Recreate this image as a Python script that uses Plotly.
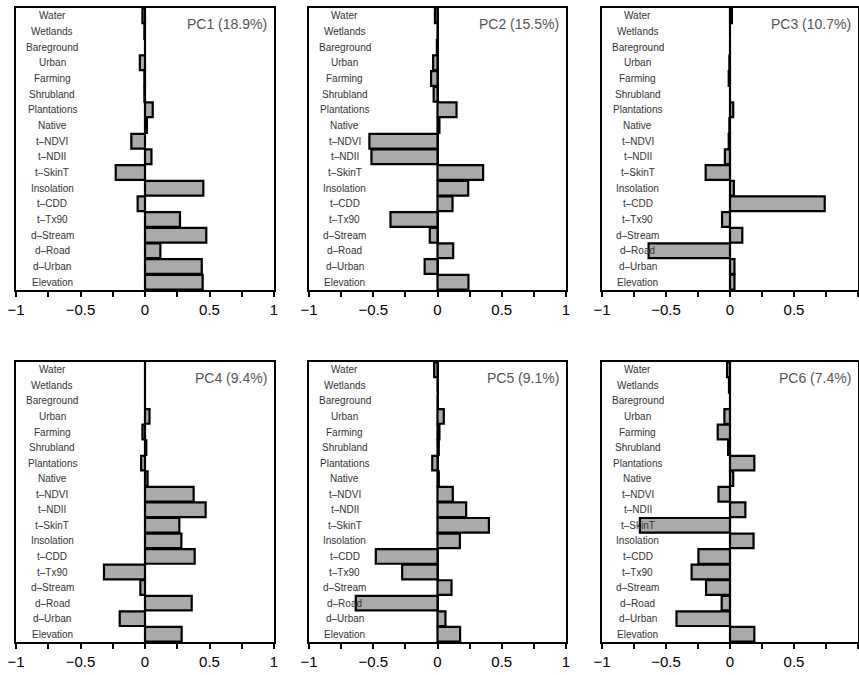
import plotly.graph_objects as go

categories = ["Water", "Wetlands", "Bareground", "Urban", "Farming", "Shrubland",
              "Plantations", "Native", "t–NDVI", "t–NDII", "t–SkinT", "Insolation",
              "t–CDD", "t–Tx90", "d–Stream", "d–Road", "d–Urban", "Elevation"]

pc_names = ["PC1", "PC2", "PC3", "PC4", "PC5", "PC6"]
pc_variance = ["18.9%", "15.5%", "10.7%", "9.4%", "9.1%", "7.4%"]

pc1 = [-0.02, -0.005, 0.0, -0.04, -0.005, -0.005, 0.06, 0.015, -0.106, 0.05, -0.227,
       0.452, -0.057, 0.271, 0.475, 0.119, 0.44, 0.447]
pc2 = [-0.02, 0.0, -0.005, -0.034, -0.05, -0.03, 0.148, 0.015, -0.53, -0.514, 0.355,
       0.239, 0.117, -0.366, -0.06, 0.122, -0.10, 0.241]
pc3 = [0.015, 0.0, 0.0, -0.005, -0.01, 0.0, 0.025, -0.005, -0.01, -0.04, -0.19,
       0.03, 0.74, -0.062, 0.096, -0.636, 0.035, 0.035]
pc4 = [0.0, 0.0, 0.0, 0.035, -0.02, 0.01, -0.03, 0.02, 0.377, 0.47, 0.266,
       0.282, 0.385, -0.318, -0.036, 0.362, -0.196, 0.284]
pc5 = [-0.026, 0.0, 0.0, 0.049, 0.015, 0.01, -0.041, 0.01, 0.119, 0.223, 0.40,
       0.174, -0.48, -0.275, 0.109, -0.636, 0.062, 0.176]
pc6 = [-0.023, -0.008, 0.0, -0.044, -0.096, -0.015, 0.19, 0.025, -0.09, 0.12, -0.704,
       0.184, -0.247, -0.30, -0.187, -0.065, -0.418, 0.19]
loadings = [pc1, pc2, pc3, pc4, pc5, pc6]

tick_vals = [-1, -0.75, -0.5, -0.25, 0, 0.25, 0.5, 0.75, 1]
tick_text = ["−1", "", "−0.5", "", "0", "", "0.5", "", "1"]

W, H = 859, 675
x_px = [(16, 274), (309, 566), (602, 858)]
y_px = [(8, 290), (362, 642)]

fig = go.Figure()
FONT = "Liberation Sans, Arial, Helvetica, sans-serif"

for i, vals in enumerate(loadings):
    r, c = divmod(i, 3)
    n = i + 1
    xa = "x" if n == 1 else f"x{n}"
    ya = "y" if n == 1 else f"y{n}"
    fig.add_trace(go.Bar(
        x=vals, y=categories, orientation="h",
        marker=dict(color="#aaaaaa", line=dict(color="black", width=2.2)),
        xaxis=xa, yaxis=ya, showlegend=False, hoverinfo="x+y"))
    x0, x1 = x_px[c]
    y0, y1 = y_px[r]
    fig.layout[f"xaxis{'' if n == 1 else n}"] = dict(
        domain=[x0 / W, x1 / W], range=[-1, 1], anchor=ya,
        tickvals=tick_vals, ticktext=tick_text, ticks="outside", ticklen=5,
        tickwidth=1.5, tickcolor="black", showline=True, linecolor="black",
        linewidth=2, mirror=True, showgrid=False, zeroline=True,
        zerolinecolor="black", zerolinewidth=2, automargin=False,
        tickfont=dict(family=FONT, size=15, color="black"))
    fig.layout[f"yaxis{'' if n == 1 else n}"] = dict(
        domain=[1 - y1 / H, 1 - y0 / H], anchor=xa, type="category",
        categoryorder="array", categoryarray=categories, autorange="reversed",
        showticklabels=False, ticks="", showline=True, linecolor="black",
        linewidth=2, mirror=True, showgrid=False, zeroline=False, automargin=False)
    for cat in categories:
        fig.add_annotation(x=-0.72, y=cat, xref=xa, yref=ya, text=cat,
                           showarrow=False, xanchor="center", yanchor="middle",
                           font=dict(family=FONT, size=10, color="#333333"))
    fig.add_annotation(x=0.96, y=0.5, xref=xa, yref=ya,
                       text=f"{pc_names[i]} ({pc_variance[i]})",
                       showarrow=False, xanchor="right", yanchor="middle",
                       font=dict(family=FONT, size=14, color="#555555"))

fig.update_layout(width=W, height=H, margin=dict(l=0, r=0, t=0, b=0, pad=0),
                  plot_bgcolor="white", paper_bgcolor="white", bargap=0.06)
fig.write_html("out.html", config={"displayModeBar": False},
               post_script="document.body.style.margin='0';document.body.style.overflow='hidden';")
